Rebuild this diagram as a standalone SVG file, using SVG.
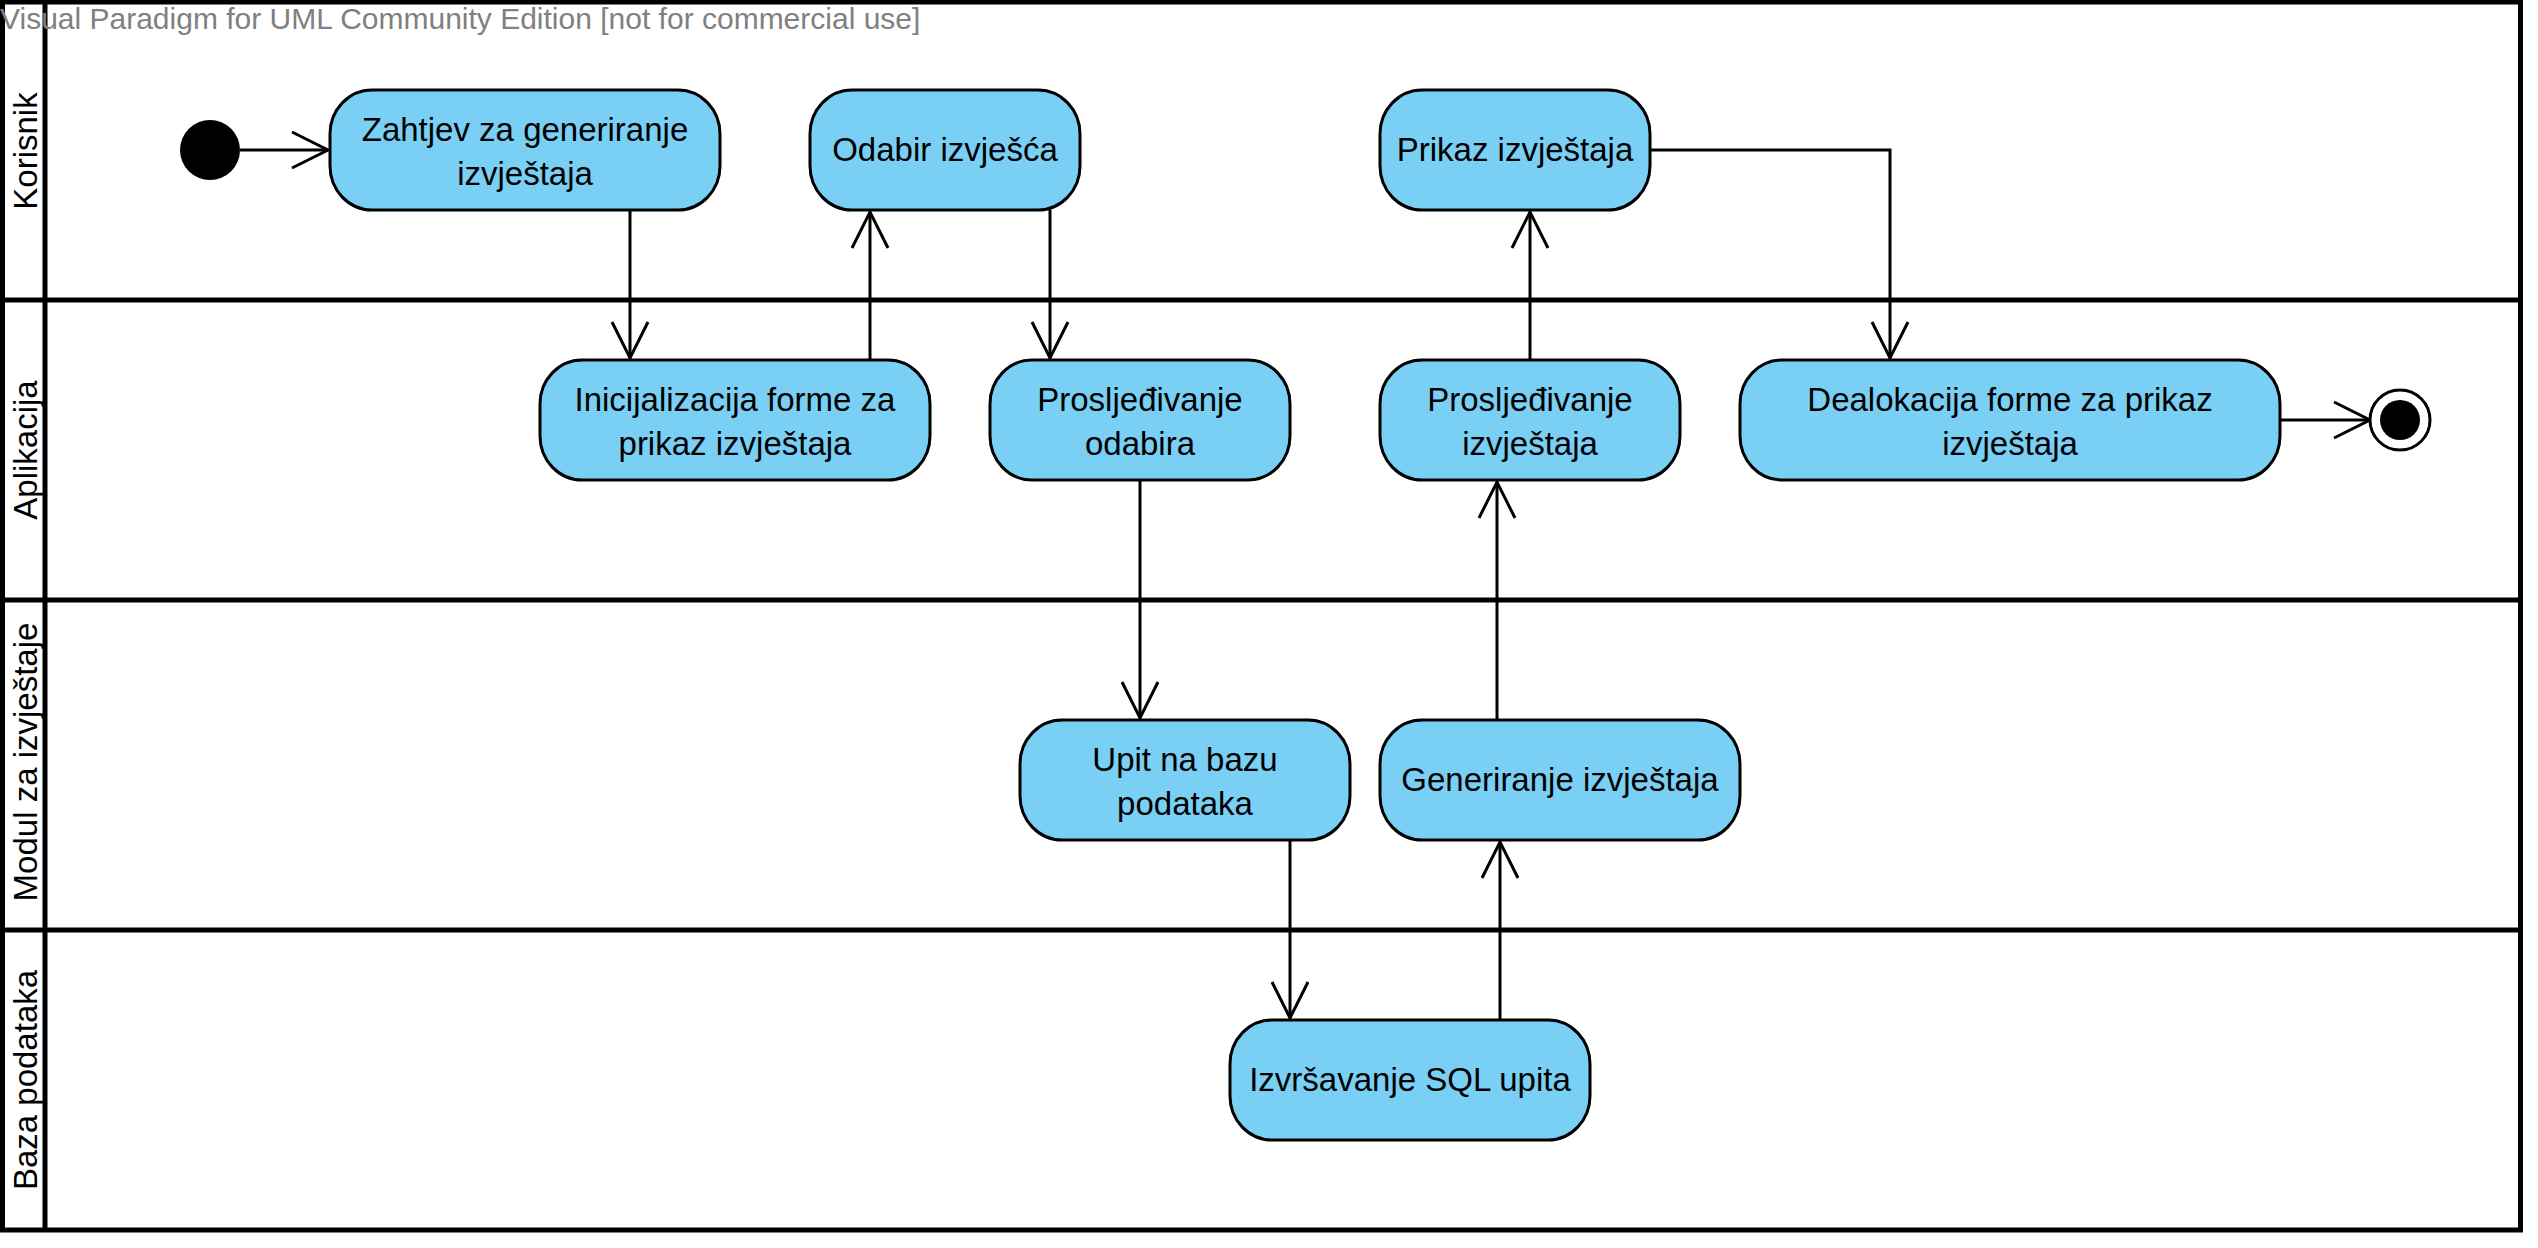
<svg xmlns="http://www.w3.org/2000/svg" width="2538" height="1248" viewBox="0 0 2538 1248">
  <style>
    .lane { fill: none; stroke: #000; stroke-width: 5; }
    .act { fill: #7ACFF5; stroke: #000; stroke-width: 3; }
    .lbl { font-family: "Liberation Sans", Arial, sans-serif; font-size: 33px; fill: #000; text-anchor: middle; }
    .lanelbl { font-family: "Liberation Sans", Arial, sans-serif; font-size: 33px; fill: #000; text-anchor: middle; }
    .wm { font-family: "Liberation Sans", Arial, sans-serif; font-size: 30px; fill: #808080; }
    .conn { fill: none; stroke: #000; stroke-width: 3; marker-end: url(#arr); }
  </style>
  <defs>
    <marker id="arr" markerUnits="userSpaceOnUse" markerWidth="40" markerHeight="40" refX="0" refY="0" orient="auto" overflow="visible">
      <path d="M-36,-18 L0,0 L-36,18" fill="none" stroke="#000" stroke-width="3"/>
    </marker>
  </defs>
  <rect width="2538" height="1248" fill="#fff"/>

  <g id="lanes">
    <rect class="lane" x="2.5" y="2" width="2518" height="1228" stroke-width="4"/>
    <line class="lane" x1="45" y1="2" x2="45" y2="1230"/>
    <line class="lane" x1="2" y1="300" x2="2520" y2="300"/>
    <line class="lane" x1="2" y1="600" x2="2520" y2="600"/>
    <line class="lane" x1="2" y1="930" x2="2520" y2="930"/>
    <text class="lanelbl" transform="translate(37,151) rotate(-90)">Korisnik</text>
    <text class="lanelbl" transform="translate(37,450) rotate(-90)">Aplikacija</text>
    <text class="lanelbl" transform="translate(37,762) rotate(-90)">Modul za izvještaje</text>
    <text class="lanelbl" transform="translate(37,1080) rotate(-90)">Baza podataka</text>
  </g>

  <text class="wm" x="0" y="29">Visual Paradigm for UML Community Edition [not for commercial use]</text>

  <g id="connectors">
    <path class="conn" d="M240,150 L328,150"/>
    <path class="conn" d="M630,210 L630,358"/>
    <path class="conn" d="M870,360 L870,212"/>
    <path class="conn" d="M1050,210 L1050,358"/>
    <path class="conn" d="M1140,480 L1140,718"/>
    <path class="conn" d="M1290,840 L1290,1018"/>
    <path class="conn" d="M1500,1020 L1500,842"/>
    <path class="conn" d="M1497,720 L1497,482"/>
    <path class="conn" d="M1530,360 L1530,212"/>
    <path class="conn" d="M1650,150 L1890,150 L1890,358"/>
    <path class="conn" d="M2280,420 L2370,420"/>
  </g>

  <g id="initial">
    <circle cx="210" cy="150" r="30" fill="#000"/>
  </g>

  <g id="n-zahtjev">
    <rect class="act" x="330" y="90" width="390" height="120" rx="42" ry="44"/>
    <text class="lbl" x="525" y="141">Zahtjev za generiranje</text>
    <text class="lbl" x="525" y="185">izvještaja</text>
  </g>

  <g id="n-odabir">
    <rect class="act" x="810" y="90" width="270" height="120" rx="42" ry="44"/>
    <text class="lbl" x="945" y="161">Odabir izvješća</text>
  </g>

  <g id="n-prikaz">
    <rect class="act" x="1380" y="90" width="270" height="120" rx="42" ry="44"/>
    <text class="lbl" x="1515" y="161">Prikaz izvještaja</text>
  </g>

  <g id="n-inicijalizacija">
    <rect class="act" x="540" y="360" width="390" height="120" rx="42" ry="44"/>
    <text class="lbl" x="735" y="411">Inicijalizacija forme za</text>
    <text class="lbl" x="735" y="455">prikaz izvještaja</text>
  </g>

  <g id="n-prosljedivanje-odabira">
    <rect class="act" x="990" y="360" width="300" height="120" rx="42" ry="44"/>
    <text class="lbl" x="1140" y="411">Prosljeđivanje</text>
    <text class="lbl" x="1140" y="455">odabira</text>
  </g>

  <g id="n-prosljedivanje-izvjestaja">
    <rect class="act" x="1380" y="360" width="300" height="120" rx="42" ry="44"/>
    <text class="lbl" x="1530" y="411">Prosljeđivanje</text>
    <text class="lbl" x="1530" y="455">izvještaja</text>
  </g>

  <g id="n-dealokacija">
    <rect class="act" x="1740" y="360" width="540" height="120" rx="42" ry="44"/>
    <text class="lbl" x="2010" y="411">Dealokacija forme za prikaz</text>
    <text class="lbl" x="2010" y="455">izvještaja</text>
  </g>

  <g id="n-upit">
    <rect class="act" x="1020" y="720" width="330" height="120" rx="42" ry="44"/>
    <text class="lbl" x="1185" y="771">Upit na bazu</text>
    <text class="lbl" x="1185" y="815">podataka</text>
  </g>

  <g id="n-generiranje">
    <rect class="act" x="1380" y="720" width="360" height="120" rx="42" ry="44"/>
    <text class="lbl" x="1560" y="791">Generiranje izvještaja</text>
  </g>

  <g id="n-izvrsavanje">
    <rect class="act" x="1230" y="1020" width="360" height="120" rx="42" ry="44"/>
    <text class="lbl" x="1410" y="1091">Izvršavanje SQL upita</text>
  </g>

  <g id="final">
    <circle cx="2400" cy="420" r="30" fill="#fff" stroke="#000" stroke-width="3"/>
    <circle cx="2400" cy="420" r="20" fill="#000"/>
  </g>
</svg>
